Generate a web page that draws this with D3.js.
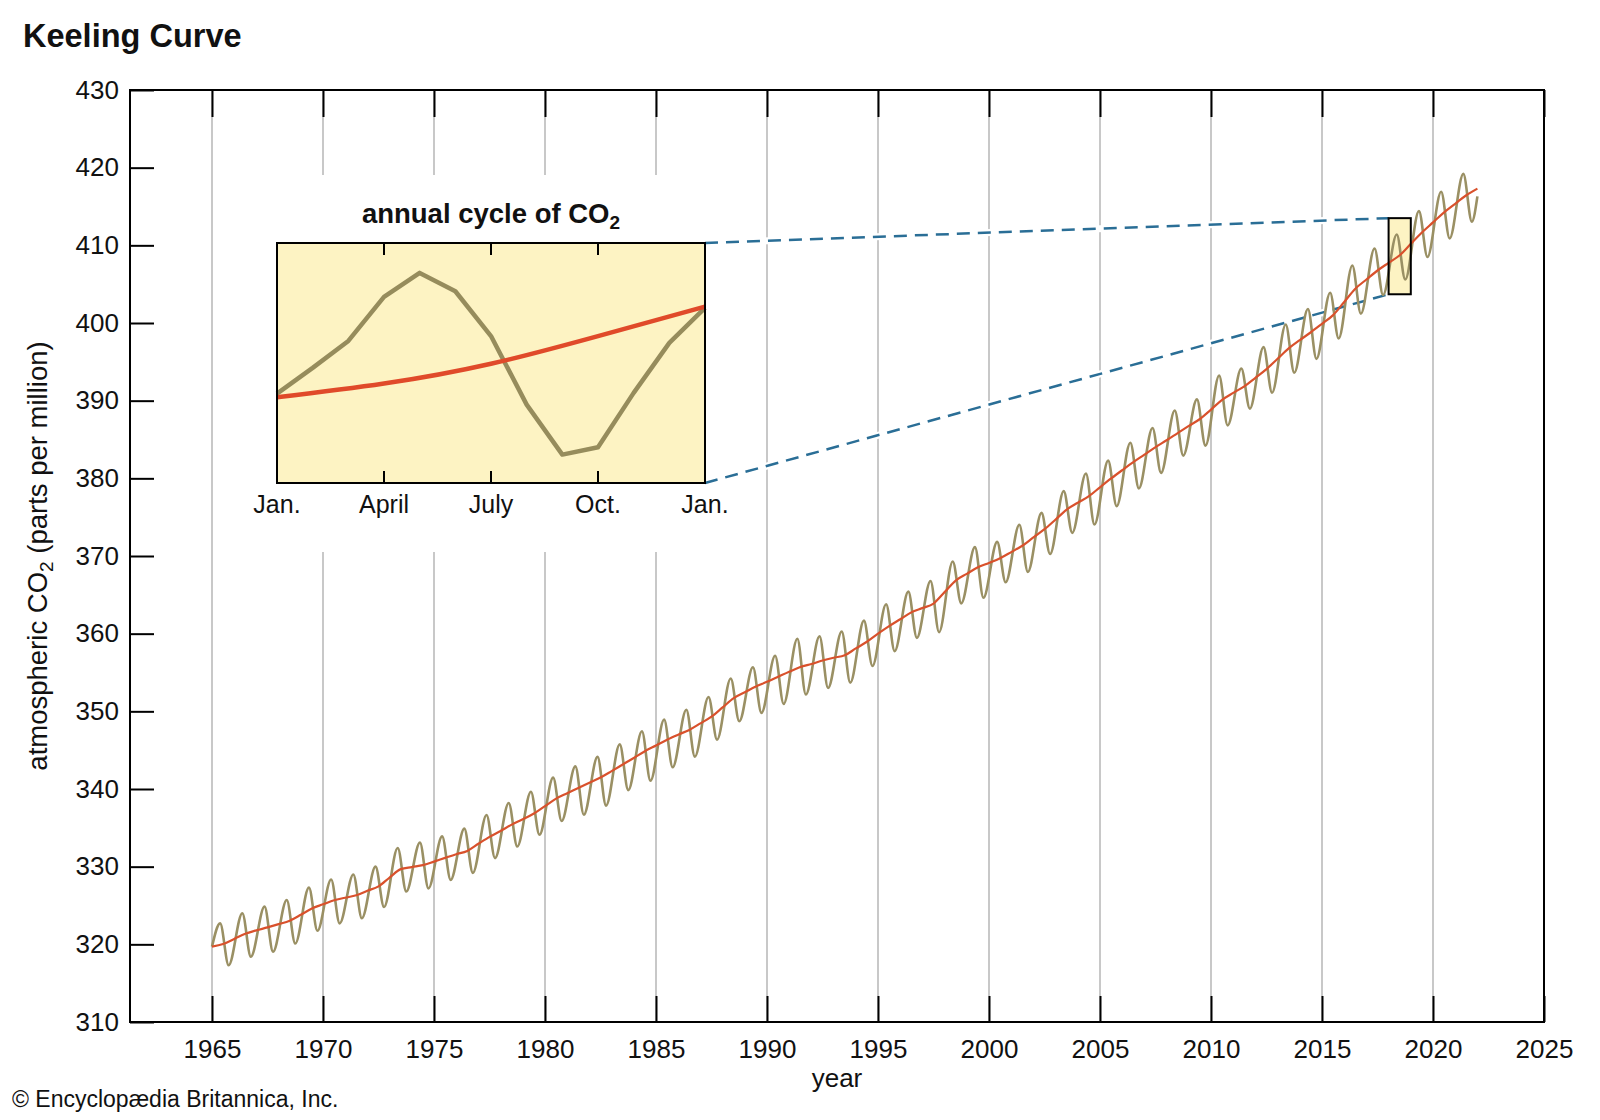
<!DOCTYPE html>
<html>
<head>
<meta charset="utf-8">
<title>Keeling Curve</title>
<script src="https://cdn.jsdelivr.net/npm/d3@7"></script>
<style>
  body { margin: 0; background: #fff; }
  text { font-family: "Liberation Sans", Arial, Helvetica, sans-serif; fill: #111; }
</style>
</head>
<body>
<div id="chart"></div>
<script>
// ---- data ----
const years = [1965, 1966, 1967, 1968, 1969, 1970, 1971, 1972, 1973, 1974,
  1975, 1976, 1977, 1978, 1979, 1980, 1981, 1982, 1983, 1984,
  1985, 1986, 1987, 1988, 1989, 1990, 1991, 1992, 1993, 1994,
  1995, 1996, 1997, 1998, 1999, 2000, 2001, 2002, 2003, 2004,
  2005, 2006, 2007, 2008, 2009, 2010, 2011, 2012, 2013, 2014,
  2015, 2016, 2017, 2018, 2019, 2020, 2021];

// seasonal maximum (May) and minimum (late Sept.) of each year, ppm
const peakCO2 = [322.7, 324.0, 324.85, 325.7, 327.3, 328.35, 329.0, 330.0, 332.4, 333.1,
  333.9, 334.9, 336.65, 338.2, 339.65, 341.46, 342.91, 344.13, 345.75, 347.43,
  348.93, 350.21, 351.84, 354.22, 355.67, 357.16, 359.34, 359.66, 360.28, 361.68,
  363.79, 365.41, 366.79, 369.29, 371.14, 371.82, 374.02, 375.55, 378.35, 380.63,
  382.28, 384.59, 386.49, 388.73, 390.16, 393.22, 394.14, 396.9, 399.8, 401.8,
  403.9, 407.4, 409.6, 411.4, 414.4, 416.9, 419.2];
const troughCO2 = [317.3, 318.4, 319.05, 320.1, 321.75, 322.7, 323.35, 324.8, 326.8, 327.2,
  328.3, 329.2, 331.1, 332.6, 334.1, 335.88, 336.69, 337.86, 339.86, 341.07,
  342.8, 344.17, 346.36, 348.72, 349.8, 350.96, 352.16, 353.01, 353.69, 355.84,
  357.75, 359.46, 360.19, 363.9, 364.63, 366.62, 367.96, 370.25, 372.98, 374.06,
  376.42, 378.71, 380.7, 382.93, 384.21, 386.81, 388.98, 391.02, 393.59, 395.38,
  398.0, 401.2, 403.6, 405.6, 408.5, 410.9, 413.05];
const cycleStart = 319.7;   // Jan. 1965
const cycleEnd = 416.3;     // Jan. 2022
const peakMonth = 4.4;
const troughMonth = 9.0;

// smoothed trend: value at 1 Jan. (1965-2022) and at mid-year (1965-2021)
const trendJan = [319.7, 320.7, 321.8, 322.6, 323.8, 325.15, 326.0, 326.9, 328.6, 329.95,
  330.65, 331.6, 332.95, 334.6, 336.1, 337.8, 339.45, 340.8, 342.3, 344.0,
  345.6, 347.0, 348.45, 350.5, 352.45, 353.8, 355.1, 356.1, 356.9, 358.1,
  360.0, 361.85, 363.3, 365.35, 367.7, 369.1, 370.5, 372.4, 374.7, 376.85,
  378.85, 381.05, 383.05, 384.9, 386.75, 388.85, 391.0, 392.95, 395.4, 397.8,
  399.9, 402.7, 405.6, 407.75, 410.2, 412.95, 415.35, 417.3];
const trendMid = [320.04, 321.37, 322.18, 323.05, 324.62, 325.68, 326.32, 327.46, 329.68, 330.19,
  331.13, 332.03, 333.84, 335.41, 336.84, 338.76, 340.12, 341.48, 343.15, 344.87,
  346.35, 347.61, 349.31, 351.69, 353.2, 354.45, 355.7, 356.54, 357.21, 358.96,
  360.97, 362.74, 363.88, 366.84, 368.54, 369.71, 371.32, 373.45, 375.98, 377.7,
  379.98, 382.09, 384.02, 385.83, 387.64, 390.1, 391.85, 394.06, 396.74, 398.81,
  401.01, 404.41, 406.76, 408.72, 411.66, 414.24, 416.45];

// inset: one year (2018) month by month
const insetMonths = [0, 1, 2, 3, 4, 5, 6, 7, 8, 9, 10, 11, 12];
const insetCO2 = [407.35, 408.4, 409.5, 411.3, 412.28, 411.53, 409.7, 406.9, 404.86, 405.16, 407.38, 409.42, 410.85];
const insetTrendMonths = [0, 3, 6, 9, 12];
const insetTrend = [407.2, 407.76, 408.57, 409.7, 410.9];
const insetLabels = ["Jan.", "April", "July", "Oct.", "Jan."];
const zoomYear = 2018;
const zoomRange = [403.7, 413.5];

const xTicks = [1965, 1970, 1975, 1980, 1985, 1990, 1995, 2000, 2005, 2010, 2015, 2020, 2025];
const yTicks = [310, 320, 330, 340, 350, 360, 370, 380, 390, 400, 410, 420, 430];

// ---- layout ----
const W = 1600, H = 1120;
const plot = { left: 130, right: 1544, top: 90, bottom: 1022 };
const inset = { left: 277, right: 705, top: 243, bottom: 483 };
const font = '"Liberation Sans", Arial, Helvetica, sans-serif';

const olive = "#9a9064";
const red = "#d9512c";

const svg = d3.select("#chart").append("svg")
  .attr("width", W).attr("height", H);

const x = d3.scaleLinear().domain([1965, 2025]).range([212, plot.right]);
const y = d3.scaleLinear().domain([310, 430]).range([plot.bottom, plot.top]);

// gridlines
svg.append("g")
  .selectAll("line")
  .data(xTicks.filter(d => d < 2025))
  .enter().append("line")
  .attr("x1", d => x(d)).attr("x2", d => x(d))
  .attr("y1", plot.top).attr("y2", plot.bottom)
  .attr("stroke", "#c8c8c8").attr("stroke-width", 2);

// white area behind the inset
svg.append("rect")
  .attr("x", 232).attr("y", 175).attr("width", 516).attr("height", 377)
  .attr("fill", "#fff");

// axes
svg.append("g")
  .attr("transform", `translate(0,${plot.bottom})`)
  .call(d3.axisBottom(x).tickValues(xTicks).tickSize(-26).tickFormat(d3.format("d")))
  .attr("font-family", font).attr("font-size", 26)
  .call(g => g.select(".domain").remove())
  .call(g => g.selectAll("line").attr("stroke", "#000").attr("stroke-width", 2))
  .call(g => g.selectAll("text").attr("y", 36).attr("dy", null).attr("fill", "#111"));

svg.append("g")
  .attr("transform", `translate(0,${plot.top})`)
  .call(d3.axisTop(x).tickValues(xTicks).tickSize(-27).tickFormat(""))
  .call(g => g.select(".domain").remove())
  .call(g => g.selectAll("line").attr("stroke", "#000").attr("stroke-width", 2));

svg.append("g")
  .attr("transform", `translate(${plot.left},0)`)
  .call(d3.axisLeft(y).tickValues(yTicks).tickSize(-24).tickPadding(11))
  .attr("font-family", font).attr("font-size", 26)
  .call(g => g.select(".domain").remove())
  .call(g => g.selectAll("line").attr("stroke", "#000").attr("stroke-width", 2))
  .call(g => g.selectAll("text").attr("fill", "#111"));

svg.append("rect")
  .attr("x", plot.left).attr("y", plot.top)
  .attr("width", plot.right - plot.left).attr("height", plot.bottom - plot.top)
  .attr("fill", "none").attr("stroke", "#000").attr("stroke-width", 2);

// leader lines from inset to the zoomed year
const xi = d3.scaleLinear().domain([0, 12]).range([inset.left, inset.right]);
const yi = d3.scaleLinear().domain(zoomRange).range([inset.bottom, inset.top]);

const leaders = zoomRange.map(v => ({ x1: xi(12), y1: yi(v), x2: x(zoomYear), y2: y(v) }));
const leaderG = svg.append("g");
leaderG.selectAll("line.halo").data(leaders).enter().append("line")
  .attr("x1", d => d.x1).attr("y1", d => d.y1).attr("x2", d => d.x2).attr("y2", d => d.y2)
  .attr("stroke", "#fff").attr("stroke-width", 7);
leaderG.selectAll("line.dash").data(leaders).enter().append("line")
  .attr("x1", d => d.x1).attr("y1", d => d.y1).attr("x2", d => d.x2).attr("y2", d => d.y2)
  .attr("stroke", "#2a6e96").attr("stroke-width", 2.5).attr("stroke-dasharray", "13,8");

// zoom box fill
svg.append("rect")
  .attr("x", x(zoomYear)).attr("y", y(zoomRange[1]))
  .attr("width", x(zoomYear + 1) - x(zoomYear)).attr("height", y(zoomRange[0]) - y(zoomRange[1]))
  .attr("fill", "#fdf3c3");

// main series
const cyclePoints = [[1965, cycleStart]];
years.forEach((yr, i) => {
  cyclePoints.push([yr + peakMonth / 12, peakCO2[i]]);
  cyclePoints.push([yr + troughMonth / 12, troughCO2[i]]);
});
cyclePoints.push([2022, cycleEnd]);

const trendPoints = [];
trendJan.forEach((v, i) => {
  trendPoints.push([1965 + i, v]);
  if (i < trendMid.length) trendPoints.push([years[i] + 0.5, trendMid[i]]);
});

const line = d3.line()
  .x(d => x(d[0]))
  .y(d => y(d[1]))
  .curve(d3.curveMonotoneX);

svg.append("path")
  .datum(cyclePoints)
  .attr("d", line)
  .attr("fill", "none").attr("stroke", olive).attr("stroke-width", 2.6)
  .attr("stroke-linejoin", "round");

svg.append("path")
  .datum(trendPoints)
  .attr("d", line)
  .attr("fill", "none").attr("stroke", red).attr("stroke-width", 2.2);

// zoom box outline
svg.append("rect")
  .attr("x", x(zoomYear)).attr("y", y(zoomRange[1]))
  .attr("width", x(zoomYear + 1) - x(zoomYear)).attr("height", y(zoomRange[0]) - y(zoomRange[1]))
  .attr("fill", "none").attr("stroke", "#000").attr("stroke-width", 2);

// ---- inset ----
const ins = svg.append("g");
ins.append("rect")
  .attr("x", inset.left).attr("y", inset.top)
  .attr("width", inset.right - inset.left).attr("height", inset.bottom - inset.top)
  .attr("fill", "#fdf3c3");

const innerTicks = insetTrendMonths.slice(1, -1);
ins.selectAll("line.top").data(innerTicks).enter().append("line")
  .attr("x1", d => xi(d)).attr("x2", d => xi(d))
  .attr("y1", inset.top).attr("y2", inset.top + 12)
  .attr("stroke", "#000").attr("stroke-width", 2);
ins.selectAll("line.bottom").data(innerTicks).enter().append("line")
  .attr("x1", d => xi(d)).attr("x2", d => xi(d))
  .attr("y1", inset.bottom).attr("y2", inset.bottom - 12)
  .attr("stroke", "#000").attr("stroke-width", 2);

ins.append("path")
  .datum(insetMonths.map((m, i) => [m, insetCO2[i]]))
  .attr("d", d3.line().x(d => xi(d[0])).y(d => yi(d[1])))
  .attr("fill", "none").attr("stroke", "#968c5c").attr("stroke-width", 4.5)
  .attr("stroke-linejoin", "round");

ins.append("path")
  .datum(insetTrendMonths.map((m, i) => [m, insetTrend[i]]))
  .attr("d", d3.line().x(d => xi(d[0])).y(d => yi(d[1])).curve(d3.curveNatural))
  .attr("fill", "none").attr("stroke", "#e04a2a").attr("stroke-width", 4.5);

ins.append("rect")
  .attr("x", inset.left).attr("y", inset.top)
  .attr("width", inset.right - inset.left).attr("height", inset.bottom - inset.top)
  .attr("fill", "none").attr("stroke", "#000").attr("stroke-width", 2);

ins.selectAll("text.month").data(insetTrendMonths).enter().append("text")
  .attr("x", d => xi(d)).attr("y", 513)
  .attr("text-anchor", "middle").attr("font-size", 25)
  .text((d, i) => insetLabels[i]);

const insTitle = ins.append("text")
  .attr("x", (inset.left + inset.right) / 2).attr("y", 223)
  .attr("text-anchor", "middle").attr("font-size", 27.5).attr("font-weight", "bold");
insTitle.append("tspan").text("annual cycle of CO");
insTitle.append("tspan").attr("font-size", 19).attr("dy", 6).text("2");

// ---- titles and labels ----
svg.append("text")
  .attr("x", 23).attr("y", 47)
  .attr("font-size", 32.5).attr("font-weight", "bold")
  .text("Keeling Curve");

svg.append("text")
  .attr("x", (plot.left + plot.right) / 2).attr("y", 1087)
  .attr("text-anchor", "middle").attr("font-size", 26)
  .text("year");

const yLabel = svg.append("text")
  .attr("transform", `translate(47,${(plot.top + plot.bottom) / 2}) rotate(-90)`)
  .attr("text-anchor", "middle").attr("font-size", 27.5);
yLabel.append("tspan").text("atmospheric CO");
yLabel.append("tspan").attr("font-size", 19).attr("dy", 6).text("2");
yLabel.append("tspan").attr("dy", -6).text(" (parts per million)");

svg.append("text")
  .attr("x", 12).attr("y", 1107)
  .attr("font-size", 23)
  .text("© Encyclopædia Britannica, Inc.");
</script>
</body>
</html>
